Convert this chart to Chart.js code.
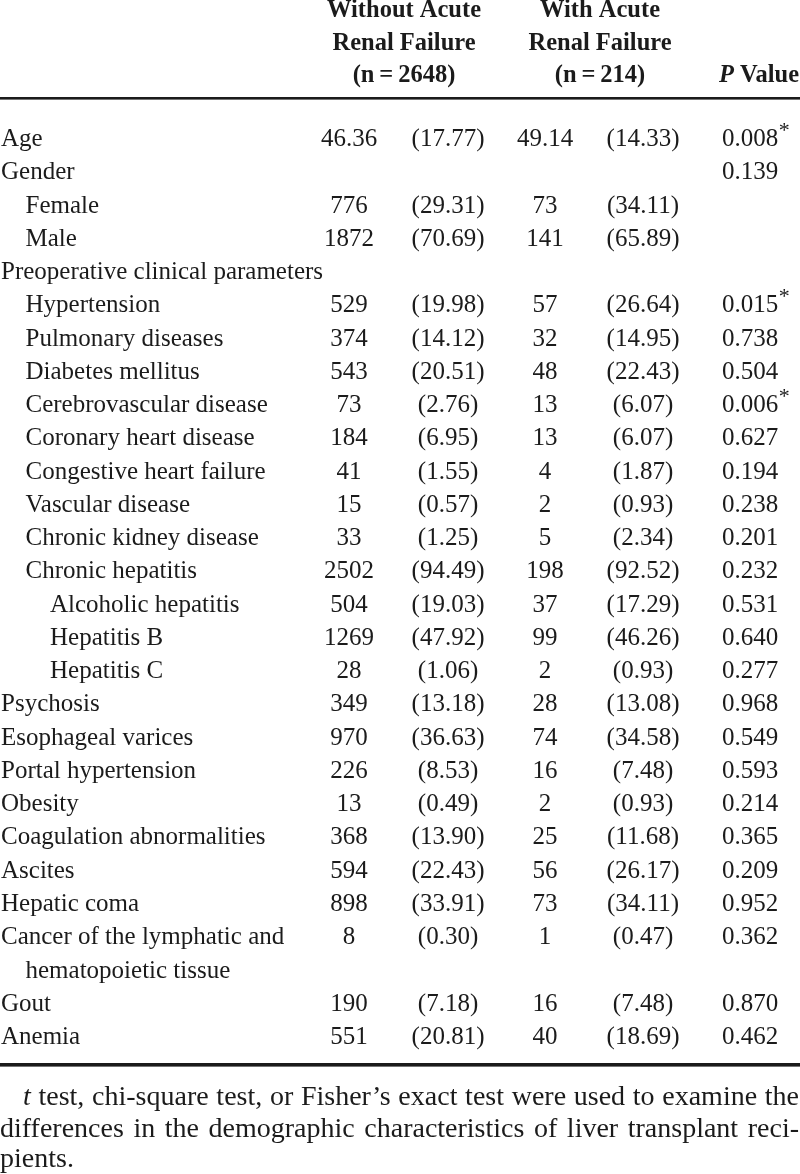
<!DOCTYPE html>
<html>
<head>
<meta charset="utf-8">
<script src="https://cdn.jsdelivr.net/npm/chart.js@4.4.1/dist/chart.umd.min.js"></script>
<style>
  html, body { margin: 0; padding: 0; background: #fff; }
  #wrap { position: relative; width: 800px; height: 1174px; }
</style>
</head>
<body>
<div id="wrap"><canvas id="table"></canvas></div>
<script>
// rows of the table (an array = label wrapped over two lines)
const rowLabels = [
  "Age", "Gender", "Female", "Male", "Preoperative clinical parameters",
  "Hypertension", "Pulmonary diseases", "Diabetes mellitus", "Cerebrovascular disease",
  "Coronary heart disease", "Congestive heart failure", "Vascular disease",
  "Chronic kidney disease", "Chronic hepatitis", "Alcoholic hepatitis", "Hepatitis B",
  "Hepatitis C", "Psychosis", "Esophageal varices", "Portal hypertension", "Obesity",
  "Coagulation abnormalities", "Ascites", "Hepatic coma",
  ["Cancer of the lymphatic and", "hematopoietic tissue"], "Gout", "Anemia"
];
const rowLevel = [0, 0, 1, 1, 0, 1, 1, 1, 1, 1, 1, 1, 1, 1, 2, 2, 2, 0, 0, 0, 0, 0, 0, 0, 0, 0, 0];

const nWithout = ["46.36", null, "776", "1872", null, "529", "374", "543", "73", "184", "41", "15",
  "33", "2502", "504", "1269", "28", "349", "970", "226", "13", "368", "594", "898", "8", "190", "551"];
const pctWithout = ["17.77", null, "29.31", "70.69", null, "19.98", "14.12", "20.51", "2.76", "6.95",
  "1.55", "0.57", "1.25", "94.49", "19.03", "47.92", "1.06", "13.18", "36.63", "8.53", "0.49",
  "13.90", "22.43", "33.91", "0.30", "7.18", "20.81"];
const nWith = ["49.14", null, "73", "141", null, "57", "32", "48", "13", "13", "4", "2", "5", "198",
  "37", "99", "2", "28", "74", "16", "2", "25", "56", "73", "1", "16", "40"];
const pctWith = ["14.33", null, "34.11", "65.89", null, "26.64", "14.95", "22.43", "6.07", "6.07",
  "1.87", "0.93", "2.34", "92.52", "17.29", "46.26", "0.93", "13.08", "34.58", "7.48", "0.93",
  "11.68", "26.17", "34.11", "0.47", "7.48", "18.69"];
const pValues = ["0.008", "0.139", null, null, null, "0.015", "0.738", "0.504", "0.006", "0.627",
  "0.194", "0.238", "0.201", "0.232", "0.531", "0.640", "0.277", "0.968", "0.549", "0.593",
  "0.214", "0.365", "0.209", "0.952", "0.362", "0.870", "0.462"];
const significant = ["0.008", "0.015", "0.006"];

const headerLeft = ["Without Acute", "Renal Failure", "(n\u2009=\u20092648)"];
const headerRight = ["With Acute", "Renal Failure", "(n\u2009=\u2009214)"];
const footnote = [
  "t test, chi-square test, or Fisher\u2019s exact test were used to examine the",
  "differences in the demographic characteristics of liver transplant reci-",
  "pients."
];

// layout
const ink = "#1b1b1b";
const body = '25px "Liberation Serif", "Times New Roman", serif';
const bold = 'bold 24.5px "Liberation Serif", "Times New Roman", serif';
const noteFont = '28px "Liberation Serif", "Times New Roman", serif';
const colCenters = [349, 448, 545, 643, 750];
const pitch = 33.26, firstBaseline = 146;

// line index of each row (wrapped labels push later rows down)
const lineOf = [];
let line = 0;
rowLabels.forEach(l => { lineOf.push(line); line += Array.isArray(l) ? l.length : 1; });

const columns = [
  { vals: nWithout, wrap: false },
  { vals: pctWithout, wrap: true },
  { vals: nWith, wrap: false },
  { vals: pctWith, wrap: true },
  { vals: pValues, wrap: false }
];

const datasets = columns.map((c, ci) => {
  const rows = c.vals.map((v, i) => i).filter(i => c.vals[i] !== null);
  return {
    label: "col" + ci,
    data: rows.map(i => ({ x: colCenters[ci], y: lineOf[i] })),
    cellText: rows.map(i => c.wrap ? "(" + c.vals[i] + ")" : c.vals[i]),
    pointRadius: 0
  };
});

function justifyLine(ctx, words, x0, x1, yb, italicFirst) {
  const fonts = words.map((w, i) => (italicFirst && i === 0) ? "italic " + noteFont : noteFont);
  const widths = words.map((w, i) => { ctx.font = fonts[i]; return ctx.measureText(w).width; });
  const total = widths.reduce((a, b) => a + b, 0);
  const gap = (x1 - x0 - total) / (words.length - 1);
  let x = x0;
  words.forEach((w, i) => { ctx.font = fonts[i]; ctx.fillText(w, x, yb); x += widths[i] + gap; });
}

const tablePlugin = {
  id: "tableText",
  afterDatasetsDraw(chart) {
    const ctx = chart.ctx, xs = chart.scales.x, ys = chart.scales.y;
    ctx.save();
    ctx.fillStyle = ink;
    ctx.textBaseline = "alphabetic";

    // header
    ctx.font = bold;
    ctx.textAlign = "center";
    [17, 49.5, 82].forEach((b, k) => {
      ctx.fillText(headerLeft[k], 404, b);
      ctx.fillText(headerRight[k], 600, b);
    });
    ctx.font = "italic " + bold;
    const pw = ctx.measureText("P").width;
    ctx.font = bold;
    const vw = ctx.measureText(" Value").width;
    ctx.textAlign = "left";
    const px0 = 799 - pw - vw;
    ctx.font = "italic " + bold;
    ctx.fillText("P", px0, 82);
    ctx.font = bold;
    ctx.fillText(" Value", px0 + pw, 82);

    // rules
    ctx.fillRect(0, 97, 800, 2.6);
    ctx.fillRect(0, 1063, 800, 3.6);

    // row labels
    ctx.font = body;
    ctx.textAlign = "left";
    rowLabels.forEach((lab, i) => {
      const parts = Array.isArray(lab) ? lab : [lab];
      parts.forEach((t, k) => {
        const lvl = rowLevel[i] + (k > 0 ? 1 : 0);
        ctx.fillText(t, xs.getPixelForValue(1 + lvl * 24.5), ys.getPixelForValue(lineOf[i] + k));
      });
    });

    // cells
    ctx.textAlign = "center";
    chart.data.datasets.forEach((ds, d) => {
      chart.getDatasetMeta(d).data.forEach((pt, j) => {
        const t = ds.cellText[j];
        ctx.font = body;
        ctx.fillText(t, pt.x, pt.y);
        if (d === 4 && significant.includes(t)) {
          const w = ctx.measureText(t).width;
          ctx.font = '22px "Liberation Serif", serif';
          ctx.textAlign = "left";
          ctx.fillText("*", pt.x + w / 2 + 0.5, pt.y - 9);
          ctx.textAlign = "center";
        }
      });
    });

    // footnote
    ctx.textAlign = "left";
    justifyLine(ctx, footnote[0].split(" "), 23, 799, 1105, true);
    justifyLine(ctx, footnote[1].split(" "), 0, 799, 1137, false);
    ctx.font = noteFont;
    ctx.fillText(footnote[2], 0, 1167);
    ctx.restore();
  }
};

new Chart(document.getElementById("table"), {
  type: "scatter",
  data: { datasets: datasets },
  options: {
    responsive: true,
    maintainAspectRatio: false,
    animation: false,
    events: [],
    layout: { padding: 0 },
    plugins: { legend: { display: false }, tooltip: { enabled: false } },
    scales: {
      x: { type: "linear", display: false, min: 0, max: 800 },
      y: {
        type: "linear", display: false, reverse: true,
        min: -firstBaseline / pitch,
        max: (1174 - firstBaseline) / pitch
      }
    }
  },
  plugins: [tablePlugin]
});
</script>
</body>
</html>
